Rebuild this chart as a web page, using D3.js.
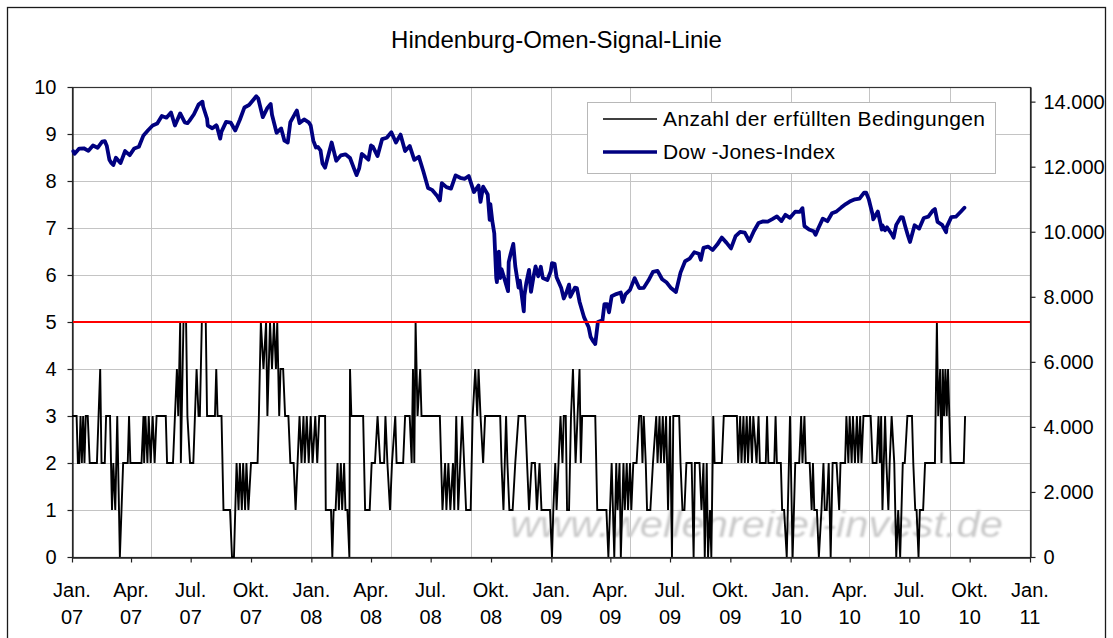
<!DOCTYPE html>
<html><head><meta charset="utf-8">
<script src="https://cdn.jsdelivr.net/npm/d3@7"></script>
<style>
body{margin:0;background:#fff}
svg{display:block}
text{font-family:"Liberation Sans",Arial,sans-serif;fill:#000}
</style>
</head><body>
<svg id="chart" width="1113" height="638"></svg>
<script>
// ---------------- DATA ----------------
const chartTitle = "Hindenburg-Omen-Signal-Linie";
const seriesNames = ["Anzahl der erfüllten Bedingungen", "Dow -Jones-Index"];
const watermarkText = "www.wellenreiter-invest.de";

const leftTicks = [0,1,2,3,4,5,6,7,8,9,10];
const rightTicks = [0,2000,4000,6000,8000,10000,12000,14000];
const rightTickLabels = ["0","2.000","4.000","6.000","8.000","10.000","12.000","14.000"];
const xTickDates = ["2007-01-01","2007-04-01","2007-07-01","2007-10-01","2008-01-01","2008-04-01","2008-07-01","2008-10-01",
  "2009-01-01","2009-04-01","2009-07-01","2009-10-01","2010-01-01","2010-04-01","2010-07-01","2010-10-01","2011-01-01"];
const xTickMonths = ["Jan.","Apr.","Jul.","Okt.","Jan.","Apr.","Jul.","Okt.","Jan.","Apr.","Jul.","Okt.","Jan.","Apr.","Jul.","Okt.","Jan."];
const xTickYears = ["07","07","07","07","08","08","08","08","09","09","09","09","10","10","10","10","11"];
const xGridDates = ["2007-05-01","2007-09-01","2008-01-01","2008-05-01","2008-09-01","2009-01-01","2009-05-01","2009-09-01",
  "2010-01-01","2010-05-01","2010-09-01"];
const signalThreshold = 5;

// Signal: calendar days since 2007-01-01 and number of fulfilled conditions
const signalStart = "2007-01-01";
const signalDays = [0,7,9,11,13,15,17,19,21,24,27,38,43,45,50,52,58,61,63,66,69,73,78,85,87,89,106,109,110,112,115,117,120,123,126,129,143,145,154,157,160,162,165,166,170,174,176,180,185,190,193,195,198,204,206,218,220,222,228,231,241,244,247,249,251,254,256,259,261,264,266,269,273,283,285,288,292,296,298,302,305,308,311,313,316,318,322,325,330,333,338,341,344,347,350,353,355,358,361,364,367,371,374,377,386,387,395,397,399,402,405,407,410,412,415,417,420,423,424,426,444,447,454,457,462,466,470,476,478,481,485,488,493,495,505,508,515,518,520,522,524,527,531,533,561,565,569,571,574,577,581,583,586,589,592,595,598,601,608,611,615,618,620,623,627,630,653,655,658,662,664,667,672,676,681,691,694,697,701,706,709,713,716,729,732,734,737,739,742,745,748,750,753,755,758,761,764,766,768,771,774,776,778,798,801,815,818,823,827,830,832,835,837,841,843,846,848,851,853,856,861,865,868,870,872,875,877,882,886,891,893,896,898,901,903,906,909,912,915,917,926,928,931,934,937,945,948,950,957,960,963,965,968,970,973,975,978,980,991,994,1014,1016,1019,1021,1024,1026,1029,1031,1034,1037,1039,1044,1047,1049,1058,1060,1062,1071,1073,1075,1081,1083,1086,1090,1095,1099,1103,1109,1112,1114,1117,1119,1125,1128,1130,1132,1136,1139,1143,1146,1148,1151,1154,1157,1160,1166,1170,1172,1179,1181,1184,1186,1189,1191,1194,1197,1199,1202,1204,1207,1218,1221,1227,1230,1232,1234,1236,1240,1242,1245,1247,1250,1254,1257,1260,1263,1267,1270,1274,1281,1283,1286,1288,1291,1293,1298,1301,1316,1319,1321,1324,1326,1328,1330,1332,1334,1336,1338,1340,1360,1362];
const signalValues = [3,3,2,2,3,2,3,2,3,3,2,2,4,2,2,3,3,1,2,1,3,0,2,2,3,2,2,3,2,3,2,3,2,3,2,3,3,2,2,3,4,3,5,2,5,5,3,2,2,4,3,3,5,5,3,3,4,3,3,1,1,0,0,1,2,1,2,1,2,1,2,1,2,2,3,5,4,5,3,5,4,5,4,5,3,4,4,3,3,2,2,1,2,3,2,3,2,3,2,3,2,3,2,3,3,1,1,0,1,1,2,1,2,1,2,1,1,0,4,3,3,1,1,2,2,3,2,2,3,2,1,2,3,2,2,3,3,2,4,2,5,3,4,3,3,1,2,1,2,1,2,1,3,1,2,3,2,1,1,3,4,3,4,3,2,3,3,2,1,3,2,1,1,2,3,3,2,1,2,2,1,2,1,1,0,1,2,1,2,3,2,3,3,1,1,3,4,3,2,3,4,2,3,3,1,1,0,2,0,2,1,2,0,2,1,2,1,2,1,2,2,3,3,2,3,2,1,1,2,3,2,3,2,3,2,3,1,3,0,3,3,2,1,1,2,2,0,2,2,1,2,0,2,0,1,0,3,2,2,3,3,2,3,2,3,2,3,2,3,2,3,2,3,2,2,3,2,2,3,2,2,1,1,0,3,0,2,2,3,2,3,2,2,1,2,1,1,0,1,2,1,1,2,0,2,2,1,2,2,3,2,3,2,3,2,3,2,3,2,3,3,2,2,3,2,3,1,3,2,1,2,3,2,0,1,0,2,2,3,3,2,1,1,0,1,1,2,2,5,3,4,2,4,3,4,3,4,3,2,2,3];

// Dow Jones Industrial Average (closes)
const dowDates = [
"2007-01-03","2007-01-05","2007-01-12","2007-01-19","2007-01-26","2007-02-02","2007-02-09","2007-02-16","2007-02-20","2007-02-23","2007-02-27","2007-03-02","2007-03-05","2007-03-09","2007-03-14","2007-03-16","2007-03-23","2007-03-30","2007-04-06","2007-04-13","2007-04-20","2007-04-27","2007-05-04","2007-05-11","2007-05-18","2007-05-25","2007-06-01","2007-06-07","2007-06-15","2007-06-22","2007-06-26","2007-06-29","2007-07-06","2007-07-13","2007-07-19","2007-07-20","2007-07-26","2007-07-27","2007-08-03","2007-08-09","2007-08-10","2007-08-15","2007-08-17","2007-08-24","2007-08-31","2007-09-07","2007-09-14","2007-09-21","2007-09-28","2007-10-05","2007-10-09","2007-10-12","2007-10-19","2007-10-26","2007-10-31","2007-11-02","2007-11-09","2007-11-16","2007-11-21","2007-11-26","2007-11-30","2007-12-07","2007-12-10","2007-12-14","2007-12-21","2007-12-28","2007-12-31",
"2008-01-04","2008-01-08","2008-01-11","2008-01-15","2008-01-18","2008-01-22","2008-01-25","2008-02-01","2008-02-08","2008-02-15","2008-02-22","2008-02-29","2008-03-07","2008-03-10","2008-03-14","2008-03-18","2008-03-20","2008-03-28","2008-04-01","2008-04-04","2008-04-11","2008-04-18","2008-04-25","2008-05-02","2008-05-09","2008-05-16","2008-05-23","2008-05-30","2008-06-06","2008-06-13","2008-06-20","2008-06-27","2008-07-03","2008-07-11","2008-07-15","2008-07-18","2008-07-25","2008-08-01","2008-08-08","2008-08-15","2008-08-22","2008-08-28","2008-09-05","2008-09-12","2008-09-15","2008-09-19","2008-09-26","2008-09-29","2008-09-30","2008-10-03","2008-10-06","2008-10-09","2008-10-10","2008-10-13","2008-10-15","2008-10-17","2008-10-22","2008-10-24","2008-10-27","2008-10-28","2008-10-31","2008-11-04","2008-11-07","2008-11-12","2008-11-14","2008-11-20","2008-11-21","2008-11-24","2008-11-28","2008-12-01","2008-12-05","2008-12-08","2008-12-12","2008-12-16","2008-12-19","2008-12-26","2008-12-31",
"2009-01-02","2009-01-06","2009-01-09","2009-01-16","2009-01-20","2009-01-23","2009-01-28","2009-01-30","2009-02-06","2009-02-09","2009-02-13","2009-02-20","2009-02-27","2009-03-02","2009-03-06","2009-03-09","2009-03-13","2009-03-20","2009-03-23","2009-03-27","2009-03-30","2009-04-03","2009-04-10","2009-04-17","2009-04-20","2009-04-24","2009-05-01","2009-05-08","2009-05-15","2009-05-22","2009-05-29","2009-06-05","2009-06-12","2009-06-19","2009-06-26","2009-07-02","2009-07-10","2009-07-17","2009-07-24","2009-07-31","2009-08-07","2009-08-14","2009-08-17","2009-08-21","2009-08-28","2009-09-04","2009-09-11","2009-09-18","2009-09-25","2009-10-02","2009-10-09","2009-10-16","2009-10-23","2009-10-30","2009-11-06","2009-11-13","2009-11-20","2009-11-27","2009-12-04","2009-12-11","2009-12-18","2009-12-24","2009-12-31",
"2010-01-08","2010-01-15","2010-01-19","2010-01-22","2010-01-29","2010-02-05","2010-02-08","2010-02-12","2010-02-19","2010-02-26","2010-03-05","2010-03-12","2010-03-19","2010-03-26","2010-04-01","2010-04-09","2010-04-16","2010-04-23","2010-04-26","2010-04-30","2010-05-06","2010-05-07","2010-05-14","2010-05-20","2010-05-21","2010-05-25","2010-05-28","2010-06-04","2010-06-07","2010-06-11","2010-06-18","2010-06-21","2010-06-25","2010-06-29","2010-07-02","2010-07-09","2010-07-16","2010-07-23","2010-07-30","2010-08-06","2010-08-09","2010-08-13","2010-08-20","2010-08-26","2010-08-27","2010-09-03","2010-09-10","2010-09-17","2010-09-23"];
const dowValues = [
12474,12398,12556,12566,12487,12653,12581,12768,12786,12647,12216,12114,12050,12277,12160,12111,12481,12354,12561,12612,12962,13120,13265,13327,13557,13507,13668,13267,13639,13361,13337,13409,13612,13908,14000,13851,13473,13266,13182,13271,13240,12861,13079,13379,13358,13114,13443,13821,13896,14067,14165,14094,13522,13807,13930,13596,13043,13177,12799,12743,13372,13626,13727,13340,13451,13366,13265,
12800,12590,12606,12501,12100,11971,12207,12743,12183,12348,12381,12266,11894,11740,11951,12392,12361,12216,12654,12610,12325,12849,12891,13058,12745,12986,12480,12638,12210,12307,11843,11347,11288,11100,10962,11496,11370,11326,11734,11659,11628,11715,11220,11422,10917,11388,11143,10365,10851,10325,9955,8579,8451,9387,8578,8852,8519,8378,8175,9065,9325,9625,8943,8283,8497,7552,8046,8443,8829,8149,8635,8934,8629,8924,8579,8515,8776,
9034,9015,8599,8281,7949,8077,8375,8001,8280,8270,7850,7366,7063,6763,6627,6547,7224,7279,7776,7776,7523,8018,8083,8131,7841,8076,8212,8575,8268,8277,8500,8764,8799,8539,8438,8280,8146,8744,9093,9172,9370,9321,9136,9505,9544,9441,9605,9820,9665,9487,9865,9996,9972,9713,10023,10270,10318,10310,10388,10471,10329,10520,10428,
10618,10610,10725,10173,10067,10012,9908,10099,10402,10325,10567,10625,10742,10851,10927,10997,11019,11204,11205,11009,10520,10380,10620,10068,10193,10043,10137,9931,9816,10211,10450,10442,10144,9870,9686,10198,10097,10424,10466,10654,10698,10303,10213,9985,10150,10448,10462,10608,10740];

// ---------------- CHART ----------------
const W = 1113, H = 638;
const plot = {left: 72, right: 1030, top: 87, bottom: 557};
const parse = d3.utcParse("%Y-%m-%d");
const svg = d3.select("#chart");

const x = d3.scaleUtc().domain([parse("2007-01-01"), parse("2011-01-01")]).range([plot.left, plot.right]);
const yL = d3.scaleLinear().domain([0, 10]).range([plot.bottom, plot.top]);
const yR = d3.scaleLinear().domain([0, 14450]).range([plot.bottom, plot.top]);

// outer chart frame
svg.append("rect").attr("x", 7.5).attr("y", 7.5).attr("width", W - 15).attr("height", H + 10)
  .attr("fill", "#fff").attr("stroke", "#1a1a1a").attr("stroke-width", 1.3);

// title
svg.append("text").attr("x", W / 2).attr("y", 48).attr("text-anchor", "middle")
  .style("font-size", "24px").text(chartTitle);

// gridlines
const grid = svg.append("g").attr("stroke", "#c4c4c4").attr("stroke-width", 1);
leftTicks.filter(d => d > 0 && d < 10).forEach(d => {
  grid.append("line").attr("x1", plot.left).attr("x2", plot.right)
    .attr("y1", Math.round(yL(d)) + 0.5).attr("y2", Math.round(yL(d)) + 0.5);
});
xGridDates.map(parse).forEach(d => {
  grid.append("line").attr("y1", plot.top).attr("y2", plot.bottom)
    .attr("x1", Math.round(x(d)) + 0.5).attr("x2", Math.round(x(d)) + 0.5);
});

// watermark
const defs = svg.append("defs");
defs.append("filter").attr("id", "soft").append("feGaussianBlur").attr("stdDeviation", 0.8);
svg.append("text").attr("x", 510).attr("y", 537)
  .attr("textLength", 493).attr("lengthAdjust", "spacingAndGlyphs")
  .attr("filter", "url(#soft)")
  .style("font-size", "36px").style("font-style", "italic").style("fill", "#cacaca")
  .text(watermarkText);

// plot border
svg.append("rect").attr("x", plot.left + 0.5).attr("y", plot.top + 0.5)
  .attr("width", plot.right - plot.left).attr("height", plot.bottom - plot.top)
  .attr("fill", "none").attr("stroke", "#333").attr("stroke-width", 1.2);

// axes
const axL = svg.append("g").attr("transform", `translate(${plot.left + 0.5},0)`)
  .call(d3.axisLeft(yL).tickValues(leftTicks).tickSize(5).tickSizeOuter(0).tickPadding(11).tickFormat(d => String(d)));
const axR = svg.append("g").attr("transform", `translate(${plot.right + 0.5},0)`)
  .call(d3.axisRight(yR).tickValues(rightTicks).tickSize(5).tickSizeOuter(0).tickPadding(8)
    .tickFormat((d, i) => rightTickLabels[i]));
const xTicks = xTickDates.map(parse);
const axB = svg.append("g").attr("transform", `translate(0,${plot.bottom + 0.5})`)
  .call(d3.axisBottom(x).tickValues(xTicks).tickSize(5).tickSizeOuter(0).tickFormat(""));
[axL, axR, axB].forEach(g => {
  g.select(".domain").attr("stroke", "#222").attr("stroke-width", 1.3);
  g.selectAll(".tick line").attr("stroke", "#222").attr("stroke-width", 1.2);
  g.selectAll(".tick text").style("font-size", "20px").style("font-family", '"Liberation Sans",Arial,sans-serif').attr("fill", "#000");
});
const xl = svg.append("g");
xTicks.forEach((d, i) => {
  const t = xl.append("text").attr("text-anchor", "middle").style("font-size", "20px");
  t.append("tspan").attr("x", x(d)).attr("y", 597).text(xTickMonths[i]);
  t.append("tspan").attr("x", x(d)).attr("y", 624).text(xTickYears[i]);
});

// signal series
const base = parse(signalStart);
const signal = signalDays.map((d, i) => ({date: d3.utcDay.offset(base, d), v: signalValues[i]}));
svg.append("path").datum(signal)
  .attr("fill", "none").attr("stroke", "#000").attr("stroke-width", 1.9).attr("stroke-linejoin", "miter")
  .attr("d", d3.line().x(d => x(d.date)).y(d => yL(d.v)));

// Dow Jones series
const dow = dowDates.map((d, i) => ({date: parse(d), v: dowValues[i]}));
svg.append("path").datum(dow)
  .attr("fill", "none").attr("stroke", "#000080").attr("stroke-width", 3.8)
  .attr("stroke-linejoin", "round").attr("stroke-linecap", "round")
  .attr("d", d3.line().x(d => x(d.date)).y(d => yR(d.v)));

// threshold line
svg.append("line").attr("x1", plot.left + 1).attr("x2", plot.right)
  .attr("y1", yL(signalThreshold)).attr("y2", yL(signalThreshold))
  .attr("stroke", "#ff0000").attr("stroke-width", 2);

// legend
const lg = svg.append("g");
lg.append("rect").attr("x", 587.5).attr("y", 102.5).attr("width", 408).attr("height", 71)
  .attr("fill", "#fff").attr("stroke", "#b8b8b8").attr("stroke-width", 1);
lg.append("line").attr("x1", 603).attr("x2", 657).attr("y1", 119).attr("y2", 119)
  .attr("stroke", "#000").attr("stroke-width", 1.6);
lg.append("line").attr("x1", 603).attr("x2", 657).attr("y1", 152).attr("y2", 152)
  .attr("stroke", "#000080").attr("stroke-width", 3.6);
lg.append("text").attr("x", 663).attr("y", 126).style("font-size", "21px")
  .attr("textLength", 322).attr("lengthAdjust", "spacing").text(seriesNames[0]);
lg.append("text").attr("x", 663).attr("y", 159).style("font-size", "21px")
  .attr("textLength", 172).attr("lengthAdjust", "spacing").text(seriesNames[1]);
</script>
</body></html>
